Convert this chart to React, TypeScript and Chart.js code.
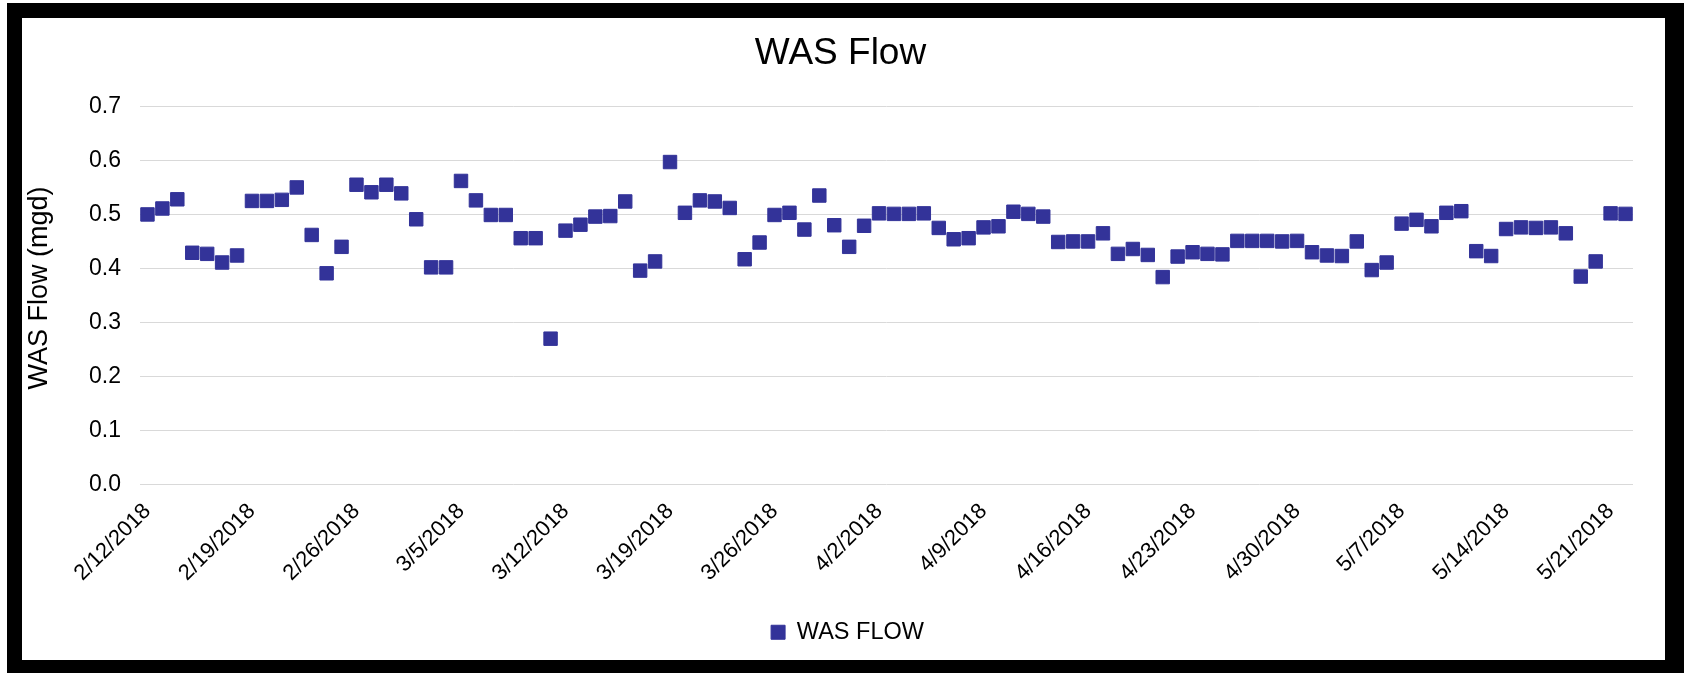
import React, { useEffect, useRef } from "react";
import { Chart, registerables } from "chart.js";

Chart.register(...registerables);

// Daily categories starting 2/12/2018
const START_YEAR = 2018;
const START_MONTH = 1; // February (0-based)
const START_DAY = 12;

const wasFlow = [
  0.500, 0.511, 0.528, 0.429, 0.427, 0.411, 0.424, 0.525, 0.525, 0.527,
  0.550, 0.462, 0.391, 0.440, 0.555, 0.541, 0.555, 0.539, 0.491, 0.402,
  0.402, 0.562, 0.526, 0.499, 0.499, 0.456, 0.456, 0.270, 0.470, 0.481,
  0.496, 0.497, 0.524, 0.396, 0.413, 0.597, 0.503, 0.526, 0.524, 0.512,
  0.417, 0.448, 0.499, 0.503, 0.472, 0.535, 0.480, 0.440, 0.479, 0.502,
  0.501, 0.501, 0.502, 0.475, 0.454, 0.456, 0.476, 0.478, 0.505, 0.501,
  0.496, 0.449, 0.450, 0.450, 0.465, 0.427, 0.436, 0.425, 0.384, 0.422,
  0.430, 0.427, 0.426, 0.451, 0.451, 0.451, 0.450, 0.451, 0.430, 0.424,
  0.423, 0.450, 0.397, 0.411, 0.483, 0.490, 0.478, 0.503, 0.506, 0.432,
  0.423, 0.473, 0.476, 0.475, 0.476, 0.465, 0.385, 0.413, 0.502, 0.501,
];

const categories = wasFlow.map((_, i) => {
  const d = new Date(START_YEAR, START_MONTH, START_DAY + i);
  return `${d.getMonth() + 1}/${d.getDate()}/${d.getFullYear()}`;
});

const LABEL_EVERY = 7;
const yTicks = [0, 0.1, 0.2, 0.3, 0.4, 0.5, 0.6, 0.7];

const FONT = "'Liberation Sans', Arial, Helvetica, sans-serif";
const MARKER = "#333399";

const shiftPlugin = {
  id: "shiftBlocks",
  afterLayout(chart: any) {
    const t = chart.titleBlock;
    if (t) {
      t.left += 13;
      t.right += 13;
    }
    const l = chart.legend;
    if (l) {
      l.left += 20;
      l.right += 20;
    }
  },
};

export default function App() {
  const ref = useRef<HTMLCanvasElement | null>(null);

  useEffect(() => {
    if (!ref.current) return;
    const chart = new Chart(ref.current, {
      type: "line",
      data: {
        labels: categories,
        datasets: [
          {
            label: "WAS FLOW",
            data: wasFlow,
            showLine: false,
            pointStyle: "rect",
            pointRadius: 9.5,
            pointHoverRadius: 9.5,
            backgroundColor: MARKER,
            borderColor: MARKER,
            pointBorderWidth: 1,
          },
        ],
      },
      plugins: [shiftPlugin],
      options: {
        responsive: false,
        animation: false,
        events: [],
        layout: { padding: { left: 0, right: 32, top: 0, bottom: 6 } },
        plugins: {
          tooltip: { enabled: false },
          title: {
            display: true,
            text: "WAS Flow",
            color: "#000",
            font: { family: FONT, size: 37, weight: "normal" },
            padding: { top: 14, bottom: 30 },
          },
          legend: {
            position: "bottom",
            labels: {
              usePointStyle: true,
              boxWidth: 14,
              boxHeight: 14,
              color: "#000",
              font: { family: FONT, size: 23.5 },
              padding: 10,
            },
          },
        },
        scales: {
          x: {
            type: "category",
            offset: true,
            grid: { display: false, drawTicks: false },
            border: { display: false },
            ticks: {
              autoSkip: false,
              maxRotation: 45,
              minRotation: 45,
              color: "#000",
              padding: 14,
              font: { family: FONT, size: 22 },
              callback: (_v: any, i: number) =>
                i % LABEL_EVERY === 0 ? categories[i] : null,
            },
            afterFit: (s: any) => {
              s.height = 126;
            },
          },
          y: {
            min: 0,
            max: 0.7,
            afterBuildTicks: (s: any) => {
              s.ticks = yTicks.map((v) => ({ value: v }));
            },
            grid: { color: "#d9d9d9", lineWidth: 1, drawTicks: false },
            border: { display: false },
            ticks: {
              color: "#000",
              padding: 19,
              font: { family: FONT, size: 23 },
              callback: (v: any) => Number(v).toFixed(1),
            },
            title: {
              display: true,
              text: "  WAS Flow (mgd)",
              color: "#000",
              font: { family: FONT, size: 27 },
              padding: { top: 1, bottom: 0 },
            },
            afterFit: (s: any) => {
              s.width = 118;
            },
          },
        },
      },
    });
    return () => chart.destroy();
  }, []);

  return (
    <div
      style={{
        position: "fixed",
        left: 7,
        top: 3,
        right: 0,
        bottom: 0,
        background: "#000",
      }}
    >
      <div
        style={{
          position: "absolute",
          left: 15,
          top: 15,
          width: 1643,
          height: 642,
          background: "#fff",
        }}
      >
        <canvas ref={ref} width={1643} height={642} style={{ display: "block" }} />
      </div>
    </div>
  );
}
